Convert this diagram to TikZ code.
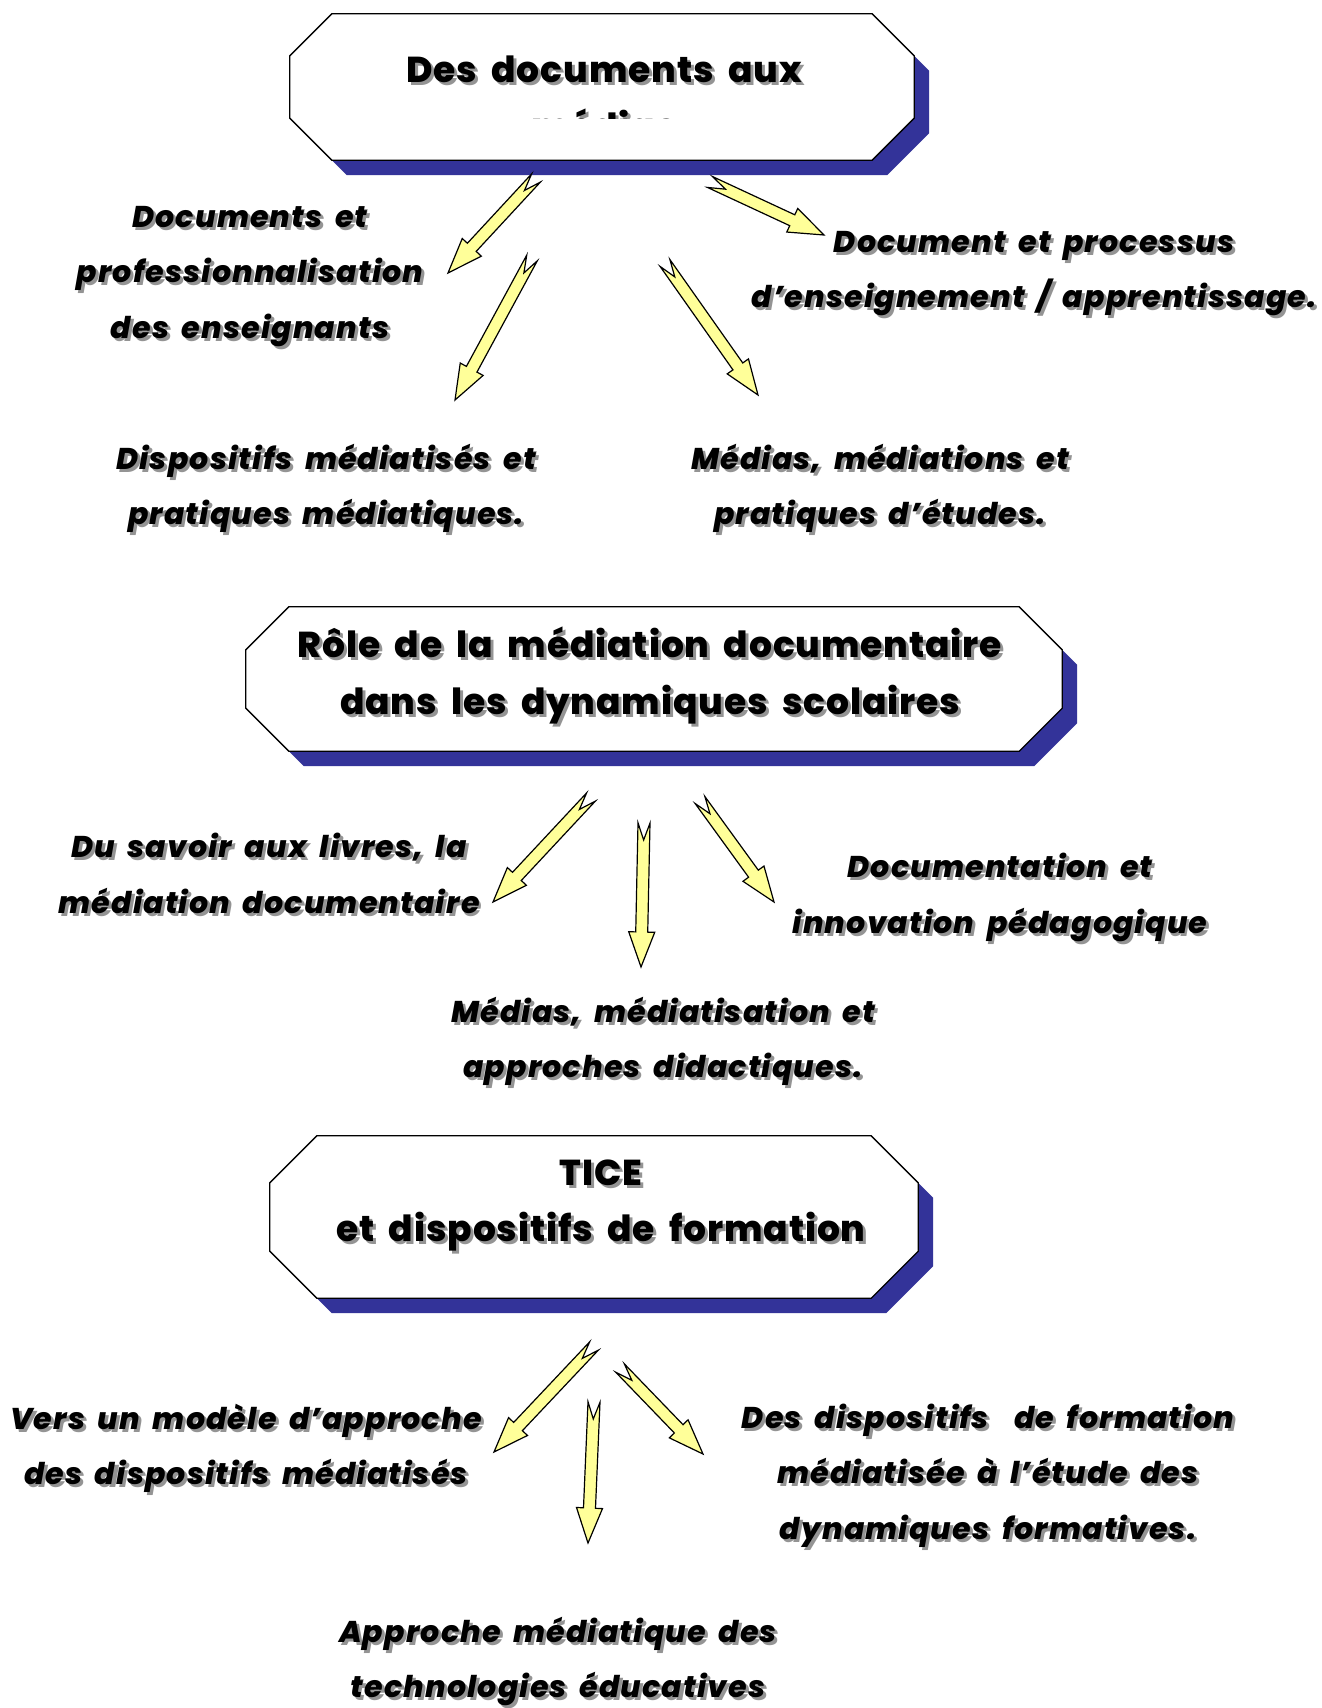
\documentclass[tikz,border=0pt]{standalone}
\usepackage{fontspec}
\setmainfont{Poppins}[LetterSpace=5, BoldFont={* ExtraBold}, BoldItalicFont={* ExtraBold Italic}]
\usetikzlibrary{calc}
\definecolor{sblue}{RGB}{51,51,153}
\definecolor{ayel}{RGB}{255,255,153}
\newcommand\shd[1]{\rlap{\kern3pt\raisebox{-3pt}{\color{black!42}#1}}#1}
\newcommand\labfont{\bfseries\itshape\fontsize{30}{55.5}\selectfont\addfontfeatures{LetterSpace=4}\spaceskip=0.42em plus 0.1em}
\newcommand\titfont{\bfseries\fontsize{36}{56.5}\selectfont\addfontfeatures{LetterSpace=2.5}\spaceskip=0.40em plus 0.1em}
\newcommand\yarrow[2]{%
  \path ($(#2)!35pt!(#1)$) coordinate (hb) ($(#1)!17pt!(#2)$) coordinate (nt);
  \draw[yarr] ($(#1)!6pt!90:(#2)$) -- ($(hb)!6pt!90:(#2)$) -- ($(hb)!13pt!90:(#2)$) -- (#2) -- ($(hb)!13pt!-90:(#2)$) -- ($(hb)!6pt!-90:(#2)$) -- ($(#1)!6pt!-90:(#2)$) -- (nt) -- cycle;}
% octagon round a node: #1 node, #2 chamfer, #3 offset
\newcommand\octpath[3]{($(#1.north west)+(#2+#3,#3)$) -- ($(#1.north east)+(-#2+#3,#3)$) -- ($(#1.north east)+(#3,#2+#3)$) -- ($(#1.south east)+(#3,-#2+#3)$) -- ($(#1.south east)+(-#2+#3,#3)$) -- ($(#1.south west)+(#2+#3,#3)$) -- ($(#1.south west)+(#3,-#2+#3)$) -- ($(#1.north west)+(#3,#2+#3)$) -- cycle}
\begin{document}
\begin{tikzpicture}[x=1pt,y=-1pt,
  box/.style={rectangle, inner sep=0pt},
  boxline/.style={draw=black, line width=1.3pt, fill=white, line join=miter},
  boxshadow/.style={fill=sblue},
  lab/.style={font=\labfont, align=center, inner sep=0pt},
  tit/.style={font=\titfont, align=center, inner sep=0pt},
  yarr/.style={draw=black, line width=1.2pt, fill=ayel, line join=miter}]
\fill[white] (0,0) rectangle (1322,1708);
\useasboundingbox (0,0) rectangle (1322,1708);

% boxes
\node[box, minimum width=624pt, minimum height=146pt] (b1) at (602,87) {};
\node[box, minimum width=816pt, minimum height=144pt] (b2) at (654,679) {};
\node[box, minimum width=648pt, minimum height=162pt] (b3) at (594,1217) {};
\fill[boxshadow] \octpath{b1}{42}{15};
\draw[boxline] \octpath{b1}{42}{0};
\fill[boxshadow] \octpath{b2}{43}{15};
\draw[boxline] \octpath{b2}{43}{0};
\fill[boxshadow] \octpath{b3}{47}{15};
\draw[boxline] \octpath{b3}{47}{0};

% titles
\node[tit] (t1a) at (604,71) {\shd{Des documents aux}};
\begin{scope}
  \clip (290,14) rectangle (914,118);
  \node[tit] (t1b) at (604,126) {\shd{médias}};
\end{scope}
\node[tit] (t2) at (650,677) {\shd{Rôle de la médiation documentaire}\\\shd{dans les dynamiques scolaires}};
\node[tit] (t3) at (601,1207) {\shd{TICE}\\\shd{et dispositifs de formation}};

% labels
\node[lab] (l1) at (250,278) {\shd{Documents et}\\\shd{professionnalisation}\\\shd{des enseignants}};
\node[lab] (l2) at (1034,275) {\shd{Document et processus}\\\shd{d'enseignement / apprentissage.}};
\node[lab] (l3) at (326,490) {\shd{Dispositifs médiatisés et}\\\shd{pratiques médiatiques.}};
\node[lab] (l4) at (880,490) {\shd{Médias, médiations et}\\\shd{pratiques d'études.}};
\node[lab] (l5) at (269,875) {\shd{Du savoir aux livres, la}\\\shd{médiation documentaire}};
\node[lab] (l6) at (1000,899) {\shd{Documentation et}\\\shd{innovation pédagogique}};
\node[lab] (l7) at (663,1043) {\shd{Médias, médiatisation et}\\\shd{approches didactiques.}};
\node[lab] (l8) at (246,1450) {\shd{Vers un modèle d'approche}\\\shd{des dispositifs médiatisés}};
\node[lab] (l9) at (988,1477) {\shd{Des dispositifs\ \ de formation}\\\shd{médiatisée à l'étude des}\\\shd{dynamiques formatives.}};
\node[lab] (l10) at (558,1663) {\shd{Approche médiatique des}\\\shd{technologies éducatives}};

% arrow end points
\coordinate (a1t) at (536,178);  \coordinate (a1h) at (448,273);
\coordinate (a2t) at (532,258);  \coordinate (a2h) at (455,400);
\coordinate (a3t) at (665,263);  \coordinate (a3h) at (758,395);
\coordinate (a4t) at (710,182);  \coordinate (a4h) at (824,235);
\coordinate (a5t) at (591,797);  \coordinate (a5h) at (493,902);
\coordinate (a6t) at (644,823);  \coordinate (a6h) at (641,967);
\coordinate (a7t) at (700,800);  \coordinate (a7h) at (774,902);
\coordinate (a8t) at (594,1346); \coordinate (a8h) at (494,1452);
\coordinate (a9t) at (594,1402); \coordinate (a9h) at (588,1543);
\coordinate (a10t) at (620,1368); \coordinate (a10h) at (703,1454);

\yarrow{a1t}{a1h}
\yarrow{a2t}{a2h}
\yarrow{a3t}{a3h}
\yarrow{a4t}{a4h}
\yarrow{a5t}{a5h}
\yarrow{a6t}{a6h}
\yarrow{a7t}{a7h}
\yarrow{a8t}{a8h}
\yarrow{a9t}{a9h}
\yarrow{a10t}{a10h}
\end{tikzpicture}
\end{document}
